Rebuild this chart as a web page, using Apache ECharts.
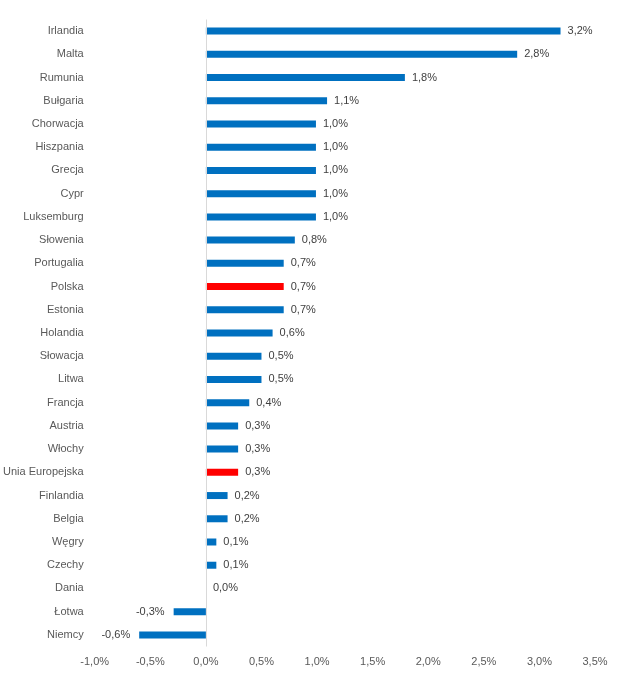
<!DOCTYPE html>
<html>
<head>
<meta charset="utf-8">
<script src="https://cdn.jsdelivr.net/npm/echarts@6/dist/echarts.min.js"></script>
<style>html,body{margin:0;padding:0;background:#fff}#c{width:618px;height:686px}</style>
</head>
<body>
<div id="c"></div>
<script>
const categories = ["Irlandia","Malta","Rumunia","Bułgaria","Chorwacja","Hiszpania","Grecja","Cypr","Luksemburg","Słowenia","Portugalia","Polska","Estonia","Holandia","Słowacja","Litwa","Francja","Austria","Włochy","Unia Europejska","Finlandia","Belgia","Węgry","Czechy","Dania","Łotwa","Niemcy"];
const values = [3.19,2.80,1.79,1.09,0.99,0.99,0.99,0.99,0.99,0.80,0.70,0.70,0.70,0.60,0.50,0.50,0.39,0.29,0.29,0.29,0.195,0.195,0.094,0.094,0.0,-0.29,-0.60];
const highlighted = ["Polska","Unia Europejska"];
const xTicks = {min:-1.0, max:3.5, interval:0.5};

const fmt = v => v.toFixed(1).replace('.', ',') + '%';
const font = '"Liberation Sans", Arial, sans-serif';

const data = values.map((v, i) => ({
  value: v,
  itemStyle: {color: highlighted.includes(categories[i]) ? '#FF0000' : '#0070C0'},
  label: v < 0 ? {position: 'left', distance: 9} : {position: 'right', distance: 7}
}));

const chart = echarts.init(document.getElementById('c'), null, {renderer: 'canvas'});
chart.setOption({
  animation: false,
  backgroundColor: '#fff',
  grid: {left: 94, right: 23, top: 19.5, bottom: 39.5, containLabel: false},
  xAxis: {
    type: 'value', min: xTicks.min, max: xTicks.max, interval: xTicks.interval,
    axisLine: {show: false}, axisTick: {show: false}, splitLine: {show: false},
    axisLabel: {formatter: fmt, color: '#595959', fontSize: 11, fontFamily: font, margin: 10}
  },
  yAxis: {
    type: 'category', data: categories, inverse: true,
    axisLine: {show: false, onZero: false}, axisTick: {show: false},
    axisLabel: {color: '#595959', fontSize: 11, fontFamily: font, margin: 11}
  },
  series: [{
    type: 'bar', data: data, barWidth: 7,
    label: {show: true, formatter: p => fmt(p.value), color: '#404040', fontSize: 11, fontFamily: font},
    markLine: {
      silent: true, symbol: 'none', label: {show: false},
      lineStyle: {color: '#D9D9D9', type: 'solid', width: 1},
      data: [{xAxis: 0}]
    }
  }]
});
</script>
</body>
</html>
